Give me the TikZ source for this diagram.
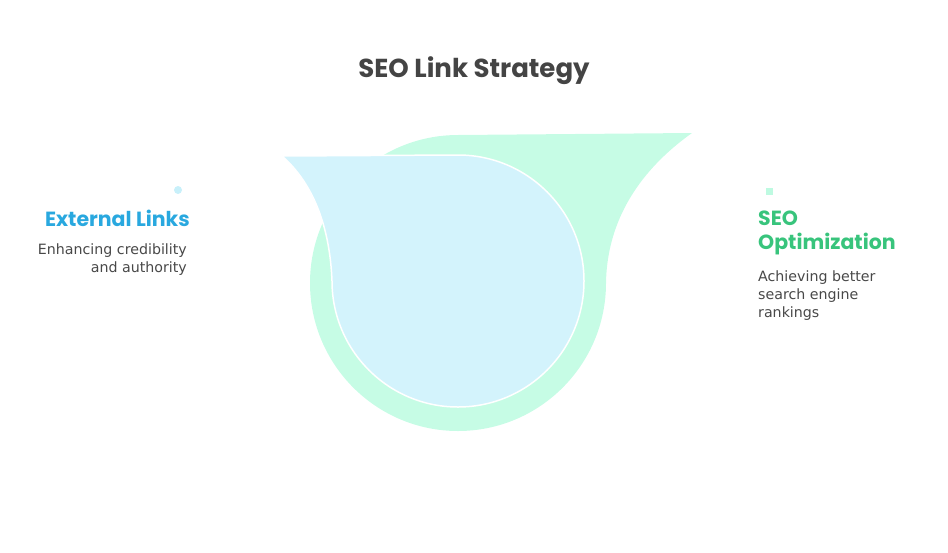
\documentclass[tikz,border=0pt]{standalone}
\usepackage{fontspec}
\setmainfont{Poppins}
\newfontfamily\bodyfont{DejaVu Sans}
\definecolor{greenfill}{RGB}{198,252,229}
\definecolor{bluefill}{RGB}{211,243,252}
\definecolor{titlegray}{RGB}{68,68,68}
\definecolor{extblue}{RGB}{41,168,223}
\definecolor{seogreen}{RGB}{56,196,124}
\definecolor{dotblue}{RGB}{200,240,250}
\definecolor{dotgreen}{RGB}{190,250,225}
\definecolor{bodygray}{RGB}{72,72,72}
\tikzset{
  titletext/.style={font=\fontsize{26}{30}\selectfont\bfseries, text=titlegray, inner sep=0pt},
  headleft/.style={font=\fontsize{20.5}{24}\selectfont\bfseries, text=extblue, inner sep=0pt, align=right},
  headright/.style={font=\fontsize{20.5}{24}\selectfont\bfseries, text=seogreen, inner sep=0pt, align=left},
  bodyleft/.style={font=\bodyfont\fontsize{14.2}{18}\selectfont, text=bodygray, inner sep=0pt, align=right},
  bodyright/.style={font=\bodyfont\fontsize{14.2}{18}\selectfont, text=bodygray, inner sep=0pt, align=left},
}
\begin{document}
\begin{tikzpicture}[x=1pt,y=-1pt]
\useasboundingbox (0,0) rectangle (948,552);
% green drop
\fill[greenfill] (458,135) -- (692,133)
  .. controls (640,170) and (607,220) .. (606,283)
  arc[start angle=0,end angle=180,radius=148]
  arc[start angle=180,end angle=270,radius=148] -- cycle;
% blue drop
\filldraw[fill=bluefill,draw=white,line width=1.5pt] (458,155)
  arc[start angle=270,end angle=360,radius=126]
  arc[start angle=0,end angle=180,radius=126]
  .. controls (330,230) and (315,185) .. (282,156) -- cycle;
% dots
\fill[dotblue] (178,190) circle[radius=4];
\fill[dotgreen] (765.5,187.5) rectangle (772.5,194.5);
% texts
\node[titletext] (title) at (474,71) {SEO Link Strategy};
\node[headleft, anchor=east] (ext) at (190,218) {External Links};
\node[bodyleft, anchor=north east] (extbody) at (187,244) {Enhancing credibility\\and authority};
\node[headright, anchor=north west] (seo) at (758,211) {SEO\\Optimization};
\node[bodyright, anchor=north west] (seobody) at (758,271) {Achieving better\\search engine\\rankings};
\end{tikzpicture}
\end{document}
